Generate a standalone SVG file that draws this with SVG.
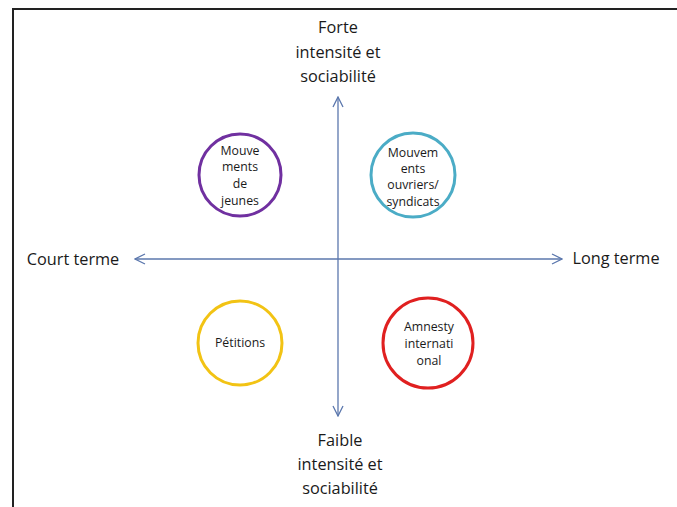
<svg xmlns="http://www.w3.org/2000/svg" width="677" height="507" viewBox="0 0 677 507">
<defs>
<marker id="arr" viewBox="0 0 12 12" refX="11" refY="6" markerWidth="12" markerHeight="12" markerUnits="userSpaceOnUse" orient="auto-start-reverse">
<path d="M1,1 L11,6 L1,11" fill="none" stroke="#5b77ad" stroke-width="1.3"/>
</marker>
</defs>
<style>
.lbl{font-family:"Open Sans","Liberation Sans",sans-serif;font-size:16.3px;fill:#1a1a1a;text-anchor:middle}
.ct{font-family:"Open Sans","Liberation Sans",sans-serif;font-size:12.3px;fill:#1a1a1a;text-anchor:middle}
.ring{fill:#fff;stroke-width:3}
.axis{stroke:#5b77ad;stroke-width:1.3;fill:none}
</style>
<rect width="677" height="507" fill="#fff"/>
<path d="M13,507 L13,9 L677,9" fill="none" stroke="#222" stroke-width="2"/>
<g id="connectors">
<line class="axis" x1="338" y1="97" x2="338" y2="416" marker-start="url(#arr)" marker-end="url(#arr)"/>
<line class="axis" x1="135" y1="259" x2="562" y2="259" marker-start="url(#arr)" marker-end="url(#arr)"/>
</g>
<g id="label-top">
<text class="lbl" x="338" y="33">Forte</text>
<text class="lbl" x="338" y="58">intensité et</text>
<text class="lbl" x="338" y="82">sociabilité</text>
</g>
<g id="label-bottom">
<text class="lbl" x="340" y="446">Faible</text>
<text class="lbl" x="340" y="470">intensité et</text>
<text class="lbl" x="340" y="494">sociabilité</text>
</g>
<g id="label-left"><text class="lbl" x="73" y="265">Court terme</text></g>
<g id="label-right"><text class="lbl" x="616" y="264">Long terme</text></g>
<g id="jeunes">
<circle class="ring" cx="240" cy="175" r="41" stroke="#7030a0"/>
<text class="ct" x="240" y="155">Mouve</text>
<text class="ct" x="240" y="171">ments</text>
<text class="ct" x="240" y="188">de</text>
<text class="ct" x="240" y="205">jeunes</text>
</g>
<g id="ouvriers">
<circle class="ring" cx="413" cy="175" r="42" stroke="#4bacc6"/>
<text class="ct" x="413" y="157">Mouvem</text>
<text class="ct" x="413" y="173">ents</text>
<text class="ct" x="413" y="189">ouvriers/</text>
<text class="ct" x="413" y="206">syndicats</text>
</g>
<g id="petitions">
<circle class="ring" cx="240" cy="343" r="42" stroke="#f2c314"/>
<text class="ct" x="240" y="347">Pétitions</text>
</g>
<g id="amnesty">
<circle class="ring" cx="428" cy="343" r="45" stroke="#e02020"/>
<text class="ct" x="429" y="331">Amnesty</text>
<text class="ct" x="429" y="348">internati</text>
<text class="ct" x="429" y="365">onal</text>
</g>
</svg>
